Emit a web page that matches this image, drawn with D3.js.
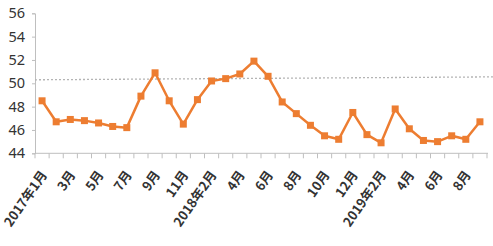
<!DOCTYPE html>
<html>
<head>
<meta charset="utf-8">
<script src="https://cdn.jsdelivr.net/npm/d3@7/dist/d3.min.js"></script>
<style>
  html, body { margin: 0; padding: 0; background: #fff; }
  svg { display: block; font-family: "Noto Sans CJK SC", "Noto Sans", sans-serif; }
</style>
</head>
<body>
<svg id="chart" width="493" height="246"></svg>
<script>
// months shown on the axis (2018年1月 is not in the series)
var categories = [
  "2017年1月", "2017年2月", "2017年3月", "2017年4月", "2017年5月", "2017年6月",
  "2017年7月", "2017年8月", "2017年9月", "2017年10月", "2017年11月", "2017年12月",
  "2018年2月", "2018年3月", "2018年4月", "2018年5月", "2018年6月", "2018年7月",
  "2018年8月", "2018年9月", "2018年10月", "2018年11月", "2018年12月",
  "2019年1月", "2019年2月", "2019年3月", "2019年4月", "2019年5月", "2019年6月",
  "2019年7月", "2019年8月", "2019年9月"
];
var values = [
  48.5, 46.7, 46.9, 46.8, 46.6, 46.3, 46.2, 48.9, 50.9, 48.5, 46.5, 48.6,
  50.2, 50.4, 50.8, 51.9, 50.6, 48.4, 47.4, 46.4, 45.5, 45.2, 47.5,
  45.6, 44.9, 47.8, 46.1, 45.1, 45.0, 45.5, 45.2, 46.7
];
// labelled every second month
var tickLabels = [
  "2017年1月", "3月", "5月", "7月", "9月", "11月", "2018年2月", "4月",
  "6月", "8月", "10月", "12月", "2019年2月", "4月", "6月", "8月"
];
var yTicks = [44, 46, 48, 50, 52, 54, 56];
// dotted reference line, value at left and right end
var refLine = [50.3, 50.55];

(function () {
  var svg = d3.select("#chart");
  var left = 35, right = 487, plotTop = 13.3, plotBottom = 153.3;

  var x = d3.scaleBand().domain(categories).range([left, right]).padding(0);
  var y = d3.scaleLinear().domain([44, 56]).range([plotBottom, plotTop]);
  var cx = function (d) { return x(d) + x.bandwidth() / 2; };

  var axisColor = "#bfbfbf";
  var textColor = "#333";

  // y axis
  var yAxis = svg.append("g")
    .attr("transform", "translate(" + left + ",0)")
    .call(d3.axisLeft(y).tickValues(yTicks).tickSize(3).tickPadding(7).tickFormat(d3.format("d")));
  yAxis.select(".domain").attr("stroke", axisColor);
  yAxis.selectAll(".tick line").attr("stroke", axisColor);
  yAxis.selectAll(".tick text").attr("fill", textColor).style("font-size", "14.5px")
    .style("font-family", "'Noto Sans', sans-serif");

  // x axis line + boundary ticks
  svg.append("line")
    .attr("x1", left).attr("x2", right + 1)
    .attr("y1", plotBottom).attr("y2", plotBottom)
    .attr("stroke", axisColor);
  var bounds = categories.map(function (d) { return x(d); }).concat([x.range()[1]]);
  svg.append("g").selectAll("line").data(bounds).enter().append("line")
    .attr("x1", function (d) { return d; }).attr("x2", function (d) { return d; })
    .attr("y1", plotBottom).attr("y2", plotBottom + 5)
    .attr("stroke", axisColor);

  // x labels, rotated
  var labelled = categories.filter(function (d, i) { return i % 2 === 0; });
  svg.append("g").selectAll("text").data(labelled).enter().append("text")
    .attr("transform", function (d) { return "translate(" + (cx(d) + 2) + "," + (plotBottom + 19) + ") rotate(-55)"; })
    .attr("text-anchor", "end")
    .attr("dy", "0.35em")
    .attr("fill", textColor)
    .style("font-size", "13px")
    .style("font-weight", "bold")
    .text(function (d, i) { return tickLabels[i]; });

  // dotted reference line
  var refX = d3.scaleLinear().domain([0, 1]).range([left, 493]);
  svg.append("line")
    .attr("x1", refX(0)).attr("x2", refX(1))
    .attr("y1", y(refLine[0])).attr("y2", y(refLine[1]))
    .attr("stroke", "#b4b4b4")
    .attr("stroke-width", 1.3)
    .attr("stroke-dasharray", "2,2");

  // series line
  var line = d3.line()
    .x(function (d, i) { return cx(categories[i]); })
    .y(function (d) { return y(d); });
  svg.append("path")
    .datum(values)
    .attr("d", line)
    .attr("fill", "none")
    .attr("stroke", "#ed7d31")
    .attr("stroke-width", 2.5)
    .attr("stroke-linejoin", "round");

  var m = 7;
  svg.append("g").selectAll("rect").data(values).enter().append("rect")
    .attr("x", function (d, i) { return cx(categories[i]) - m / 2; })
    .attr("y", function (d) { return y(d) - m / 2; })
    .attr("width", m).attr("height", m)
    .attr("fill", "#ed7d31");
})();
</script>
</body>
</html>
